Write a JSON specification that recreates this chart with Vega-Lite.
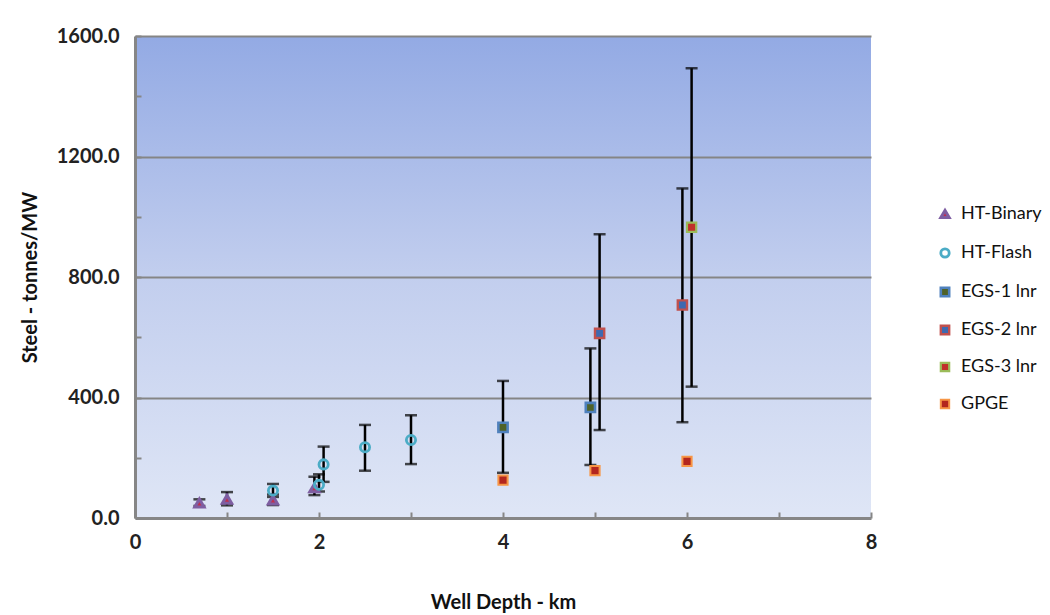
{
  "$schema": "https://vega.github.io/schema/vega-lite/v6.json",
  "width": 736,
  "height": 482,
  "autosize": "none",
  "padding": {"left": 135, "top": 36, "right": 179, "bottom": 97},
  "background": "white",
  "view": {
    "stroke": null,
    "fill": {
      "gradient": "linear", "x1": 0, "y1": 0, "x2": 0, "y2": 1,
      "stops": [
        {"offset": 0, "color": "#93AAE4"},
        {"offset": 0.5, "color": "#C2CEEE"},
        {"offset": 1, "color": "#DFE6F6"}
      ]
    }
  },
  "config": {
    "font": "Lato",
    "axis": {
      "labelFont": "Lato", "labelFontWeight": "bold", "labelFontSize": 20, "labelColor": "#222",
      "titleFont": "Lato", "titleFontWeight": "bold", "titleFontSize": 20, "titleColor": "#111",
      "domainColor": "#868686", "domainWidth": 3,
      "tickColor": "#868686", "tickWidth": 2
    },
    "legend": {"labelFont": "Lato", "labelFontSize": 18, "labelColor": "#111"}
  },
  "data": {
    "values": [
      {"series": "HT-Binary", "depth": 0.7, "steel": 50, "lo": 40, "hi": 62},
      {"series": "HT-Binary", "depth": 1.0, "steel": 62, "lo": 42, "hi": 86},
      {"series": "HT-Binary", "depth": 1.5, "steel": 60, "lo": 43, "hi": 78},
      {"series": "HT-Binary", "depth": 1.95, "steel": 100, "lo": 76, "hi": 137},
      {"series": "HT-Flash", "depth": 1.5, "steel": 91, "lo": 70, "hi": 113},
      {"series": "HT-Flash", "depth": 2.0, "steel": 110, "lo": 88, "hi": 145},
      {"series": "HT-Flash", "depth": 2.05, "steel": 178, "lo": 120, "hi": 237},
      {"series": "HT-Flash", "depth": 2.5, "steel": 235, "lo": 157, "hi": 309},
      {"series": "HT-Flash", "depth": 3.0, "steel": 259, "lo": 179, "hi": 341},
      {"series": "EGS-1 lnr", "depth": 4.0, "steel": 301, "lo": 150, "hi": 455},
      {"series": "EGS-1 lnr", "depth": 4.95, "steel": 367, "lo": 176, "hi": 563},
      {"series": "EGS-2 lnr", "depth": 5.05, "steel": 613, "lo": 292, "hi": 942},
      {"series": "EGS-2 lnr", "depth": 5.95, "steel": 707, "lo": 318, "hi": 1094},
      {"series": "EGS-3 lnr", "depth": 6.05, "steel": 965, "lo": 436, "hi": 1493},
      {"series": "GPGE", "depth": 4.0, "steel": 126, "lo": null, "hi": null},
      {"series": "GPGE", "depth": 5.0, "steel": 157, "lo": null, "hi": null},
      {"series": "GPGE", "depth": 6.0, "steel": 188, "lo": null, "hi": null}
    ]
  },
  "encoding": {
    "x": {
      "field": "depth", "type": "quantitative",
      "scale": {"domain": [0, 8], "nice": false},
      "axis": {
        "title": "Well Depth - km",
        "values": [0, 1, 2, 3, 4, 5, 6, 7, 8],
        "labelExpr": "datum.value % 2 === 0 ? datum.label : ''",
        "labelFlush": false,
        "grid": false, "tickSize": -6, "labelPadding": 20, "titlePadding": 40
      }
    }
  },
  "layer": [
    {
      "transform": [{"filter": "isValid(datum.lo)"}],
      "mark": {"type": "rule", "color": "black", "strokeWidth": 2.5},
      "encoding": {
        "y": {
          "field": "lo", "type": "quantitative",
          "scale": {"domain": [0, 1600], "nice": false},
          "axis": {
            "title": "Steel - tonnes/MW",
            "values": [0, 200, 400, 600, 800, 1000, 1200, 1400, 1600],
            "labelExpr": "datum.value % 400 === 0 ? format(datum.value, '.1f') : ''",
            "grid": true, "gridColor": "#858585", "gridWidth": 2,
            "gridOpacity": {"condition": {"test": "datum.value % 400 === 0 && datum.value > 0", "value": 1}, "value": 0},
            "tickSize": -6, "labelPadding": 22, "titlePadding": 16
          }
        },
        "y2": {"field": "hi"}
      }
    },
    {
      "transform": [{"filter": "isValid(datum.lo)"}],
      "mark": {"type": "tick", "color": "black", "orient": "horizontal", "size": 12, "thickness": 2.5},
      "encoding": {"y": {"field": "lo", "type": "quantitative"}}
    },
    {
      "transform": [{"filter": "isValid(datum.hi)"}],
      "mark": {"type": "tick", "color": "black", "orient": "horizontal", "size": 12, "thickness": 2.5},
      "encoding": {"y": {"field": "hi", "type": "quantitative"}}
    },
    {
      "mark": {"type": "point", "size": 85, "opacity": 1},
      "encoding": {
        "y": {"field": "steel", "type": "quantitative"},
        "shape": {
          "field": "series", "type": "nominal",
          "scale": {
            "domain": ["HT-Binary", "HT-Flash", "EGS-1 lnr", "EGS-2 lnr", "EGS-3 lnr", "GPGE"],
            "range": ["triangle-up", "circle", "square", "square", "square", "square"]
          },
          "legend": {
            "title": null, "orient": "none", "legendX": 801, "legendY": 169,
            "rowPadding": 19, "labelOffset": 7, "symbolSize": 70
          }
        },
        "strokeWidth": {
          "field": "series", "type": "nominal",
          "scale": {
            "domain": ["HT-Binary", "HT-Flash", "EGS-1 lnr", "EGS-2 lnr", "EGS-3 lnr", "GPGE"],
            "range": [3, 2, 3.5, 3.5, 3.5, 3.5]
          }
        },
        "fill": {
          "field": "series", "type": "nominal",
          "scale": {
            "domain": ["HT-Binary", "HT-Flash", "EGS-1 lnr", "EGS-2 lnr", "EGS-3 lnr", "GPGE"],
            "range": ["#C0304D", "transparent", "#4F6228", "#3E69B0", "#C0302A", "#B3261E"]
          }
        },
        "stroke": {
          "field": "series", "type": "nominal",
          "scale": {
            "domain": ["HT-Binary", "HT-Flash", "EGS-1 lnr", "EGS-2 lnr", "EGS-3 lnr", "GPGE"],
            "range": ["#7E5EA2", "#4BACC6", "#4F81BD", "#C0504D", "#9BBB59", "#F79646"]
          }
        }
      }
    }
  ]
}
